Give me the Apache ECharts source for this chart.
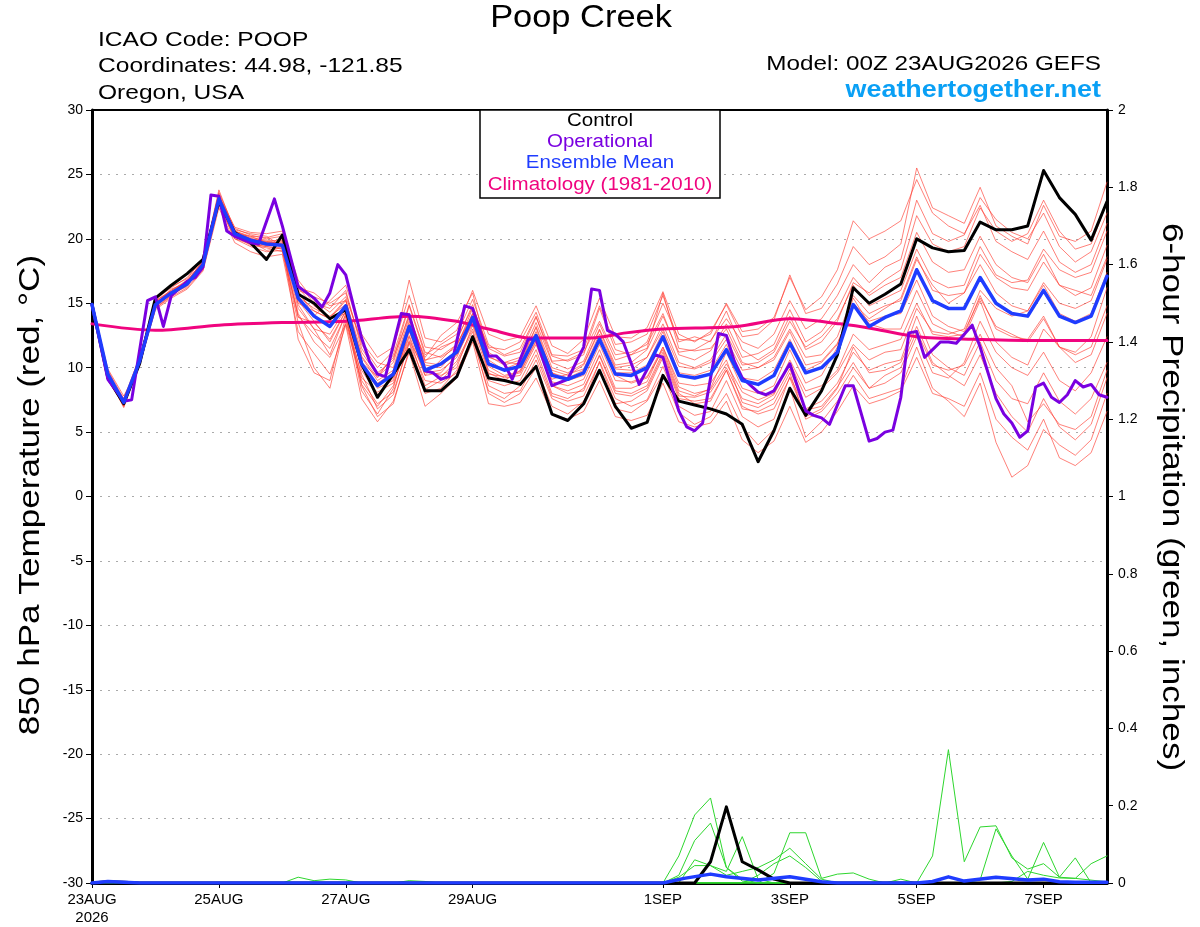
<!DOCTYPE html>
<html>
<head>
<meta charset="utf-8">
<script src="https://cdn.jsdelivr.net/npm/echarts@6/dist/echarts.min.js"></script>
<style>
html, body { margin: 0; padding: 0; background: #fff; }
#chart { width: 1200px; height: 927px; }
</style>
</head>
<body>
<div id="chart"></div>
<script>
var FONT = '"Liberation Sans", Arial, Helvetica, sans-serif';

// forecast hours, every 6 h from 00Z 23AUG2026
var hours = [];
for (var h = 0; h <= 384; h += 6) hours.push(h);

var tickHours = [0, 48, 96, 144, 216, 264, 312, 360];
var tickLabels = ['23AUG\n2026', '25AUG', '27AUG', '29AUG', '1SEP', '3SEP', '5SEP', '7SEP'];

// 850 hPa temperature (C), 6-hourly
var control = [14.9, 9.2, 7.2, 10.3, 15.4, 16.4, 17.3, 18.4, 22.9, 20.5, 19.7, 18.4, 20.3,
  15.7, 15.0, 13.8, 14.5, 10.3, 7.7, 9.5, 11.4, 8.2, 8.2, 9.3, 12.4,
  9.2, 9.0, 8.7, 10.1, 6.4, 5.9, 7.2, 9.8, 7.0, 5.3, 5.75, 9.4, 7.4, 7.1, 6.8, 6.4, 5.6, 2.7, 5.1, 8.4, 6.3, 8.2, 11.0,
  16.2, 15.0, 15.7, 16.5, 20.0, 19.3, 19.0, 19.1, 21.3, 20.7, 20.7, 21.0, 25.3, 23.2, 21.9, 19.9, 22.9];

var ensMean = [14.9, 9.5, 7.3, 10.5, 14.9, 15.8, 16.5, 18.0, 23.1, 20.4, 19.9, 19.6, 19.5,
  15.4, 14.0, 13.2, 14.8, 10.3, 8.6, 9.5, 13.2, 9.8, 10.3, 11.2, 13.9,
  10.3, 9.8, 10.1, 12.5, 9.4, 9.1, 9.6, 12.2, 9.5, 9.4, 10.0, 12.4, 9.4, 9.2, 9.5, 11.4, 9.0, 8.7, 9.4, 11.9, 9.6, 10.0, 11.2,
  14.9, 13.2, 13.9, 14.4, 17.6, 15.2, 14.6, 14.6, 17.0, 15.0, 14.2, 14.0, 16.0, 14.0, 13.5, 14.0, 17.1];

// operational run, [hour, C]
var operational = [[0, 14.9], [6, 9.1], [12, 7.4], [15, 7.5], [21, 15.2], [24, 15.5], [27, 13.2], [30, 15.6],
  [36, 16.7], [39, 17.0], [42, 17.8], [45, 23.4], [48, 23.3], [51, 20.6], [54, 20.2], [60, 19.7], [63, 19.6],
  [69, 23.1], [72, 21.0], [78, 16.3], [84, 15.4], [87, 14.7], [90, 15.8], [93, 18.0], [96, 17.2], [102, 12.3],
  [105, 10.5], [108, 9.5], [111, 9.3], [117, 14.2], [120, 14.1], [126, 9.75], [129, 9.6], [132, 9.1], [135, 9.3],
  [141, 14.8], [144, 14.6], [150, 10.9], [153, 10.9], [156, 10.3], [159, 9.1], [165, 12.2], [168, 12.2],
  [174, 8.6], [180, 9.1], [186, 11.6], [189, 16.1], [192, 16.0], [195, 12.9], [198, 12.6], [201, 12.0],
  [207, 8.7], [213, 11.0], [216, 10.8], [222, 6.65], [225, 5.4], [228, 5.1], [231, 5.7], [237, 12.65],
  [240, 12.5], [243, 10.5], [246, 9.2], [252, 8.1], [255, 7.9], [258, 8.2], [264, 10.3], [270, 6.65],
  [273, 6.3], [276, 6.1], [279, 5.6], [285, 8.6], [288, 8.6], [294, 4.3], [297, 4.5], [300, 5.0], [303, 5.15],
  [306, 7.7], [309, 12.7], [312, 12.8], [315, 10.8], [321, 12.0], [324, 12.0], [327, 11.9], [333, 13.3],
  [336, 11.6], [342, 7.6], [345, 6.4], [348, 5.7], [351, 4.6], [354, 5.1], [357, 8.5], [360, 8.8], [363, 7.7],
  [366, 7.3], [369, 7.9], [372, 9.0], [375, 8.5], [378, 8.7], [381, 7.9], [384, 7.7]];

// climatology 1981-2010, [hour, C]
var climatology = [[0, 13.4], [24, 12.9], [48, 13.3], [72, 13.5], [96, 13.6], [120, 14.0], [138, 13.6],
  [150, 13.0], [166, 12.3], [189, 12.3], [202, 12.7], [216, 13.0], [244, 13.2], [264, 13.8], [283, 13.4],
  [296, 13.0], [312, 12.4], [333, 12.2], [358, 12.1], [384, 12.1]];

// ensemble members, 6-hourly
var member01 = [14.9, 9.3, 7.0, 10.8, 15.3, 16.2, 17.0, 18.4, 23.6, 20.8, 20.3, 20.0, 20.2,
  16.5, 15.0, 14.6, 16.0, 11.5, 9.6, 10.6, 14.8, 11.0, 11.8, 12.6, 15.3,
  11.8, 11.0, 11.5, 14.0, 10.5, 10.6, 11.2, 13.6, 11.0, 11.2, 11.8, 14.2, 11.0, 10.6, 11.3, 13.4, 10.8, 11.1, 11.8, 14.5, 12.0, 12.8, 14.5,
  17.0, 15.6, 16.4, 17.0, 20.5, 18.2, 17.4, 17.6, 20.2, 18.0, 17.0, 16.6, 18.8, 16.4, 15.6, 16.2, 19.5];
var member02 = [14.9, 9.8, 7.6, 10.2, 14.6, 15.5, 16.2, 17.6, 22.6, 20.0, 19.4, 19.0, 19.1,
  14.2, 12.0, 10.8, 13.4, 9.0, 7.2, 8.1, 11.9, 8.3, 9.0, 10.3, 12.8,
  8.6, 8.0, 8.2, 10.6, 7.6, 7.0, 7.2, 10.5, 7.6, 7.0, 7.5, 10.1, 7.0, 6.3, 6.6, 9.0, 6.2, 5.4, 6.0, 9.3, 6.8, 7.4, 8.8,
  11.2, 9.8, 10.3, 10.6, 14.0, 11.0, 10.0, 9.4, 12.0, 9.0, 7.6, 7.2, 9.6, 7.4, 6.4, 7.6, 10.4];
var member03 = [14.9, 9.6, 7.1, 10.6, 15.1, 16.0, 16.8, 18.2, 23.8, 20.6, 20.1, 19.9, 19.8,
  16.0, 15.5, 15.0, 15.8, 11.8, 10.0, 11.3, 16.8, 12.3, 12.0, 12.9, 16.0,
  12.6, 12.1, 12.4, 14.8, 11.7, 11.1, 12.2, 15.4, 12.4, 12.3, 13.1, 15.9, 12.6, 12.0, 12.8, 14.9, 12.4, 12.6, 13.7, 17.2, 14.2, 14.6, 16.5,
  19.4, 18.0, 18.6, 19.6, 25.5, 22.4, 21.8, 21.2, 24.0, 21.0, 20.2, 19.6, 22.6, 20.2, 19.8, 20.6, 24.4];
var member04 = [14.9, 9.2, 7.5, 10.4, 14.7, 15.6, 16.4, 17.8, 22.9, 20.2, 19.5, 19.3, 19.0,
  13.5, 10.0, 8.4, 13.6, 9.5, 6.8, 7.9, 12.0, 9.0, 8.8, 9.6, 12.5,
  8.0, 7.3, 8.0, 10.0, 7.0, 6.4, 7.4, 9.8, 6.8, 6.5, 7.4, 9.5, 6.5, 5.6, 6.2, 8.0, 5.4, 4.0, 5.2, 8.4, 4.6, 5.8, 7.4,
  9.4, 7.6, 8.0, 8.4, 11.6, 8.4, 7.4, 6.2, 8.8, 4.2, 1.5, 2.4, 5.2, 4.0, 3.2, 4.4, 8.0];
var member05 = [14.9, 9.7, 7.4, 10.9, 15.2, 15.9, 16.6, 18.1, 23.3, 20.9, 20.5, 20.4, 20.6,
  16.8, 15.2, 14.3, 15.5, 12.0, 10.4, 10.0, 13.9, 10.8, 12.5, 13.5, 15.8,
  10.8, 10.4, 10.3, 13.2, 10.0, 9.6, 10.3, 13.0, 10.2, 10.4, 11.4, 14.0, 11.2, 11.4, 12.1, 13.8, 12.0, 11.5, 12.6, 15.2, 13.0, 13.8, 15.6,
  18.0, 16.6, 17.8, 18.4, 23.0, 20.4, 19.8, 20.3, 23.2, 21.5, 20.5, 20.0, 22.0, 19.4, 18.2, 19.0, 22.0];
var member06 = [14.9, 9.4, 6.9, 10.3, 14.5, 15.4, 16.1, 17.5, 22.4, 19.7, 19.0, 18.6, 18.8,
  12.8, 11.1, 9.5, 13.3, 7.6, 5.8, 7.4, 11.2, 7.0, 8.0, 9.2, 12.0,
  7.2, 7.0, 7.3, 9.2, 6.4, 6.0, 6.6, 9.0, 6.2, 5.9, 6.3, 8.8, 5.8, 5.4, 5.7, 7.4, 4.4, 3.4, 4.3, 7.0, 4.2, 5.0, 6.6,
  8.6, 7.2, 7.6, 8.2, 10.8, 8.0, 7.6, 7.0, 9.6, 6.0, 4.6, 3.6, 6.0, 3.0, 2.4, 3.4, 6.6];
var member07 = [14.9, 9.5, 7.3, 10.7, 15.0, 15.9, 16.7, 18.3, 23.5, 20.5, 20.0, 19.8, 19.6,
  15.8, 14.4, 13.8, 15.2, 10.8, 9.0, 9.8, 13.6, 10.2, 10.0, 11.4, 14.2,
  9.6, 9.0, 9.8, 12.3, 9.1, 9.5, 9.9, 12.6, 9.9, 9.8, 10.8, 13.0, 10.1, 9.9, 10.4, 12.2, 9.8, 10.0, 10.8, 13.0, 10.8, 11.0, 12.4,
  15.6, 14.2, 14.8, 15.2, 18.4, 16.4, 15.0, 15.8, 18.8, 17.0, 16.2, 16.0, 18.2, 16.4, 16.0, 15.6, 18.6];
var member08 = [14.9, 9.9, 7.8, 10.1, 14.8, 15.7, 16.3, 17.9, 22.8, 20.1, 19.7, 19.5, 19.9,
  14.9, 13.0, 12.6, 14.6, 9.8, 7.9, 9.2, 12.5, 9.4, 9.6, 11.0, 13.4,
  10.1, 9.4, 9.7, 12.1, 8.6, 8.2, 8.7, 11.4, 8.4, 8.4, 8.9, 11.6, 8.5, 8.0, 8.3, 10.3, 8.1, 7.5, 8.0, 10.6, 8.2, 8.6, 9.8,
  12.6, 11.4, 11.8, 12.2, 15.0, 12.6, 12.4, 12.6, 15.6, 13.0, 12.4, 12.2, 14.0, 11.6, 11.0, 11.6, 14.8];
var member09 = [14.9, 9.1, 7.0, 10.5, 15.4, 16.3, 16.9, 18.5, 23.2, 20.7, 20.4, 20.2, 19.4,
  16.2, 14.8, 13.9, 15.3, 10.4, 9.3, 10.4, 14.2, 10.5, 11.6, 12.1, 14.9,
  11.2, 10.4, 10.8, 13.5, 10.4, 9.9, 10.5, 13.4, 10.6, 11.0, 12.0, 15.0, 12.2, 12.1, 12.6, 15.0, 12.8, 13.0, 13.9, 17.0, 14.5, 15.5, 17.6,
  21.4, 20.0, 20.6, 21.4, 24.6, 22.0, 21.0, 20.4, 22.6, 19.8, 19.0, 18.4, 20.6, 18.2, 17.4, 18.0, 21.2];
var member10 = [14.9, 9.6, 7.2, 10.2, 14.6, 15.6, 16.5, 17.7, 23.0, 20.3, 19.8, 19.1, 19.3,
  14.0, 12.6, 11.5, 14.1, 8.7, 7.0, 8.6, 12.4, 8.6, 9.3, 10.5, 13.0,
  9.0, 8.6, 9.0, 11.4, 8.0, 7.6, 8.4, 10.9, 8.0, 7.8, 8.4, 11.0, 7.8, 7.7, 8.1, 10.0, 7.6, 7.2, 7.9, 10.4, 7.7, 8.4, 9.6,
  11.8, 10.6, 11.2, 11.4, 14.6, 12.8, 12.6, 13.0, 16.0, 14.6, 14.0, 14.4, 16.6, 15.0, 14.6, 15.2, 18.4];
var member11 = [14.9, 9.4, 7.6, 10.8, 15.1, 15.8, 16.4, 18.0, 23.4, 20.4, 20.2, 19.7, 20.0,
  15.5, 14.6, 14.0, 14.9, 10.9, 9.2, 11.0, 14.9, 11.2, 10.8, 11.6, 14.6,
  11.5, 10.9, 11.2, 13.9, 10.9, 10.5, 11.0, 14.6, 11.4, 11.0, 11.5, 15.8, 11.5, 11.3, 11.5, 13.0, 10.4, 10.0, 10.6, 12.8, 10.2, 10.5, 11.9,
  14.8, 13.6, 14.0, 14.2, 16.8, 14.0, 13.2, 12.8, 15.4, 13.2, 12.6, 12.0, 13.8, 11.6, 11.2, 12.4, 16.2];
var member12 = [14.9, 9.7, 7.1, 10.4, 14.9, 16.1, 16.6, 18.2, 22.7, 20.0, 19.6, 19.4, 19.2,
  13.9, 13.5, 12.2, 14.4, 9.2, 8.1, 8.8, 12.1, 9.8, 9.4, 10.0, 13.3,
  9.5, 9.3, 9.6, 12.0, 8.9, 8.6, 9.1, 11.8, 9.0, 8.9, 9.3, 11.6, 8.8, 8.6, 8.8, 10.6, 7.3, 6.9, 7.6, 9.9, 6.7, 7.0, 8.5,
  10.4, 8.4, 8.8, 9.6, 12.4, 9.6, 9.2, 10.4, 13.6, 11.2, 10.0, 9.4, 11.2, 9.0, 8.2, 9.6, 12.4];
var member13 = [14.9, 9.5, 7.2, 10.6, 15.0, 15.9, 16.6, 18.1, 23.0, 20.6, 20.0, 19.7, 19.7,
  12.2, 9.6, 9.0, 14.0, 8.2, 6.4, 8.4, 13.0, 9.4, 10.6, 11.8, 14.2,
  10.9, 10.2, 10.6, 13.1, 9.6, 9.0, 9.4, 12.4, 9.4, 8.8, 9.2, 11.4, 8.2, 7.8, 8.4, 11.2, 8.4, 8.0, 8.6, 11.4, 8.8, 9.4, 11.6,
  15.4, 13.4, 13.0, 13.0, 16.0, 13.4, 12.8, 12.4, 15.2, 12.0, 10.8, 10.2, 13.0, 11.6, 10.4, 11.0, 14.2];
var member14 = [14.9, 9.4, 7.4, 10.5, 15.0, 15.9, 16.7, 18.2, 23.4, 20.6, 20.2, 20.1, 20.4,
  16.0, 14.0, 15.2, 16.4, 12.6, 10.8, 11.6, 15.6, 11.6, 11.4, 12.2, 14.7,
  11.6, 11.4, 12.0, 14.3, 11.0, 10.9, 11.4, 14.8, 11.8, 12.0, 12.6, 15.6, 12.0, 12.4, 12.0, 14.4, 11.4, 10.6, 11.4, 14.0, 11.4, 12.0, 13.6,
  16.6, 15.8, 16.8, 17.6, 21.8, 19.6, 19.0, 19.4, 22.4, 20.6, 19.8, 20.4, 23.0, 20.6, 19.2, 19.6, 22.8];
var member15 = [14.9, 9.5, 7.5, 10.4, 14.8, 15.7, 16.4, 17.9, 22.8, 20.2, 19.6, 19.4, 19.3,
  14.6, 13.0, 11.0, 14.2, 8.6, 6.2, 7.2, 11.4, 8.0, 8.4, 9.8, 12.2,
  8.2, 7.6, 8.6, 11.0, 7.8, 7.4, 7.8, 10.4, 7.2, 7.4, 8.2, 10.8, 7.6, 7.4, 7.6, 9.8, 6.8, 6.6, 7.2, 9.6, 6.0, 6.6, 8.0,
  10.0, 8.4, 9.4, 10.0, 12.8, 10.2, 9.8, 10.2, 12.6, 10.0, 8.6, 5.8, 7.2, 5.6, 5.2, 6.2, 9.8];
var member16 = [14.9, 9.6, 7.3, 10.3, 14.8, 15.8, 16.6, 18.0, 23.2, 20.4, 19.8, 19.5, 19.6,
  15.0, 14.4, 13.8, 14.2, 10.0, 8.8, 9.6, 13.4, 10.4, 10.2, 11.0, 13.8,
  10.6, 9.8, 10.0, 12.6, 9.8, 9.4, 10.2, 12.9, 10.0, 10.2, 10.8, 13.4, 10.4, 10.0, 10.6, 12.6, 10.2, 10.4, 11.2, 13.6, 11.6, 12.4, 13.8,
  16.4, 14.8, 15.4, 16.0, 19.2, 16.8, 16.2, 16.4, 19.4, 17.2, 16.6, 16.8, 19.2, 17.6, 17.0, 17.4, 20.6];
var member17 = [14.9, 9.3, 7.1, 10.6, 15.2, 16.0, 16.7, 18.3, 23.0, 20.5, 20.0, 19.8, 19.5,
  15.2, 13.6, 12.0, 14.4, 10.2, 8.4, 9.0, 12.8, 9.6, 9.8, 10.8, 13.6,
  9.8, 9.2, 9.4, 11.8, 8.6, 8.0, 8.2, 11.0, 8.2, 8.0, 8.6, 11.2, 8.0, 7.2, 7.4, 9.8, 7.0, 6.4, 6.8, 9.2, 6.2, 6.8, 8.4,
  11.6, 9.6, 9.8, 10.4, 13.2, 10.4, 9.4, 8.6, 11.0, 8.0, 6.2, 5.0, 7.6, 5.4, 4.4, 5.6, 9.2];
var member18 = [14.9, 9.6, 7.4, 10.5, 14.9, 15.7, 16.4, 17.9, 23.1, 20.3, 19.9, 19.6, 19.4,
  16.2, 15.8, 14.8, 15.2, 11.2, 9.4, 10.8, 14.0, 10.6, 10.9, 11.8, 14.0,
  10.2, 9.9, 10.4, 12.8, 9.6, 9.2, 9.8, 12.2, 9.6, 9.6, 10.2, 12.8, 9.6, 9.4, 9.8, 11.8, 9.2, 9.0, 9.8, 12.2, 9.8, 10.4, 11.8,
  15.0, 13.8, 14.6, 15.4, 18.6, 16.0, 15.6, 15.8, 18.0, 15.8, 14.8, 14.4, 16.4, 14.2, 13.6, 14.2, 17.4];
var members = [member01, member02, member03, member04, member05, member06, member07, member08, member09,
  member10, member11, member12, member13, member14, member15, member16, member17, member18];

// 6-hour precipitation (inches), [hour, in]
var precipControl = [[0, 0], [6, 0.003], [12, 0.002], [18, 0], [228, 0], [234, 0.055], [240, 0.197],
  [246, 0.055], [252, 0.034], [258, 0.01], [264, 0], [384, 0]];
var precipMean = [[0, 0], [6, 0.004], [12, 0.002], [18, 0], [216, 0], [224, 0.012], [234, 0.023], [240, 0.016],
  [252, 0.008], [264, 0.016], [276, 0.003], [282, 0], [312, 0], [318, 0.004], [324, 0.016], [330, 0.005],
  [342, 0.015], [354, 0.008], [360, 0.01], [366, 0.003], [372, 0.002], [384, 0.002]];
var precipMembers = [
  [[0, 0], [216, 0], [222, 0.07], [228, 0.176], [234, 0.22], [240, 0.04], [246, 0.005], [252, 0], [384, 0]],
  [[0, 0], [216, 0], [222, 0.02], [228, 0.11], [234, 0.155], [240, 0.04], [246, 0.01], [252, 0], [384, 0]],
  [[0, 0], [222, 0], [228, 0.06], [234, 0.045], [240, 0.03], [246, 0.12], [252, 0.01], [258, 0], [384, 0]],
  [[0, 0], [216, 0], [222, 0.015], [228, 0.045], [234, 0.045], [240, 0.02], [246, 0.03], [252, 0.04], [258, 0.06],
   [264, 0.09], [270, 0.05], [276, 0.01], [282, 0], [384, 0]],
  [[0, 0], [252, 0], [258, 0.025], [264, 0.13], [270, 0.13], [276, 0.012], [282, 0.023], [288, 0.026], [294, 0.01],
   [300, 0], [306, 0.01], [312, 0], [384, 0]],
  [[0, 0], [246, 0], [252, 0.02], [258, 0.05], [264, 0.07], [270, 0.04], [276, 0.005], [282, 0], [384, 0]],
  [[0, 0], [312, 0], [318, 0.07], [324, 0.345], [330, 0.055], [336, 0.145], [342, 0.148], [348, 0.065],
   [354, 0.036], [360, 0.05], [366, 0.015], [372, 0.065], [378, 0], [384, 0]],
  [[0, 0], [330, 0], [336, 0.008], [342, 0.14], [348, 0.07], [354, 0.01], [360, 0.105], [366, 0.015],
   [372, 0.012], [378, 0.05], [384, 0.07]],
  [[0, 0], [342, 0], [348, 0.004], [354, 0.03], [360, 0.02], [366, 0.013], [372, 0.012], [384, 0.003]],
  [[0, 0], [72, 0], [78, 0.015], [84, 0.006], [90, 0.01], [96, 0.008], [102, 0], [114, 0], [120, 0.006],
   [126, 0.004], [132, 0], [384, 0]]
];

function pairs(values) {
  return values.map(function (v, i) { return [hours[i], v]; });
}

function lineSeries(data, color, width, yIndex, z) {
  return {
    type: 'line',
    yAxisIndex: yIndex,
    data: data,
    symbol: 'none',
    showSymbol: false,
    silent: true,
    z: z,
    lineStyle: { color: color, width: width, cap: 'round', join: 'round' }
  };
}

var series = [];
members.forEach(function (m) {
  series.push(lineSeries(pairs(m), 'rgba(255,60,50,0.72)', 0.9, 0, 2));
});
precipMembers.forEach(function (p) {
  series.push(lineSeries(p, '#2ed62e', 1, 1, 3));
});
var clim = lineSeries(climatology, '#f0047f', 3, 0, 4);
clim.smooth = 0.3;
series.push(clim);
series.push(lineSeries(precipControl, '#000', 3, 1, 5));
series.push(lineSeries(pairs(control), '#000', 3, 0, 5));
series.push(lineSeries(operational, '#7a00e0', 3, 0, 6));
series.push(lineSeries(pairs(ensMean), '#1f3cff', 3.5, 0, 7));
series.push(lineSeries(precipMean, '#1f3cff', 3.5, 1, 7));

// header / legend text, stretched a little to match the wide lettering of the original
function label(text, x, y, size, color, align, sx, extra) {
  var el = {
    type: 'text', x: x, y: y, scaleX: sx || 1, z: 61,
    style: { text: text, fill: color, font: size + 'px ' + FONT, textAlign: align, textVerticalAlign: 'middle' }
  };
  if (extra) for (var k in extra) el[k] = extra[k];
  return el;
}

var chart = echarts.init(document.getElementById('chart'));

var option = {
  animation: false,
  backgroundColor: '#fff',
  textStyle: { fontFamily: FONT },
  grid: { left: 92, right: 93, top: 110, bottom: 44, containLabel: false },
  xAxis: {
    type: 'value',
    min: 0,
    max: 384,
    axisLine: { show: true, onZero: false, lineStyle: { color: '#000', width: 3 } },
    axisTick: { show: true, customValues: tickHours, length: 5, lineStyle: { color: '#000', width: 1 } },
    axisLabel: {
      customValues: tickHours,
      color: '#000',
      fontSize: 15,
      lineHeight: 18,
      margin: 8,
      fontFamily: FONT,
      formatter: function (v) { return tickLabels[tickHours.indexOf(v)]; }
    },
    splitLine: { show: false }
  },
  yAxis: [{
    type: 'value',
    position: 'left',
    min: -30,
    max: 30,
    interval: 5,
    axisLine: { show: true, lineStyle: { color: '#000', width: 3 } },
    axisTick: { show: true, length: 6, lineStyle: { color: '#000', width: 1 } },
    axisLabel: { color: '#000', fontSize: 14, margin: 9, fontFamily: FONT },
    splitLine: { show: true, lineStyle: { color: '#aaa', width: 1, type: [2, 6] } }
  }, {
    type: 'value',
    position: 'right',
    min: 0,
    max: 2,
    interval: 0.2,
    axisLine: { show: true, lineStyle: { color: '#000', width: 3 } },
    axisTick: { show: true, length: 6, lineStyle: { color: '#000', width: 1 } },
    axisLabel: { color: '#000', fontSize: 14, margin: 11, fontFamily: FONT },
    splitLine: { show: false }
  }],
  graphic: [
    { type: 'line', shape: { x1: 92, y1: 110, x2: 1107, y2: 110 }, style: { stroke: '#000', lineWidth: 2 }, z: 50 },
    label('Poop Creek', 581, 18, 31, '#000', 'center', 1.11),
    label('ICAO Code: POOP', 98, 40, 21, '#000', 'left', 1.17),
    label('Coordinates: 44.98, -121.85', 98, 66, 21, '#000', 'left', 1.17),
    label('Oregon, USA', 98, 93, 21, '#000', 'left', 1.17),
    label('Model: 00Z 23AUG2026 GEFS', 1101, 64, 21, '#000', 'right', 1.156),
    { type: 'text', x: 1101, y: 90, scaleX: 1.12, z: 61,
      style: { text: 'weathertogether.net', fill: '#0aa0f5', font: 'bold 24px ' + FONT, textAlign: 'right', textVerticalAlign: 'middle' } },
    { type: 'rect', shape: { x: 480, y: 110, width: 240, height: 88 }, style: { fill: '#fff', stroke: '#000', lineWidth: 1.5 }, z: 60 },
    label('Control', 600, 121, 18, '#000', 'center', 1.14),
    label('Operational', 600, 142, 18, '#7a00e0', 'center', 1.14),
    label('Ensemble Mean', 600, 163, 18, '#1f3cff', 'center', 1.14),
    label('Climatology (1981-2010)', 600, 185, 18, '#f0047f', 'center', 1.14),
    label('850 hPa Temperature (red, °C)', 31, 495, 30, '#000', 'center', 1.17, { rotation: Math.PI / 2 }),
    label('6-hour Precipitation (green, inches)', 1171, 497, 30, '#000', 'center', 1.17, { rotation: -Math.PI / 2 })
  ],
  series: series
};

chart.setOption(option);
</script>
</body>
</html>
